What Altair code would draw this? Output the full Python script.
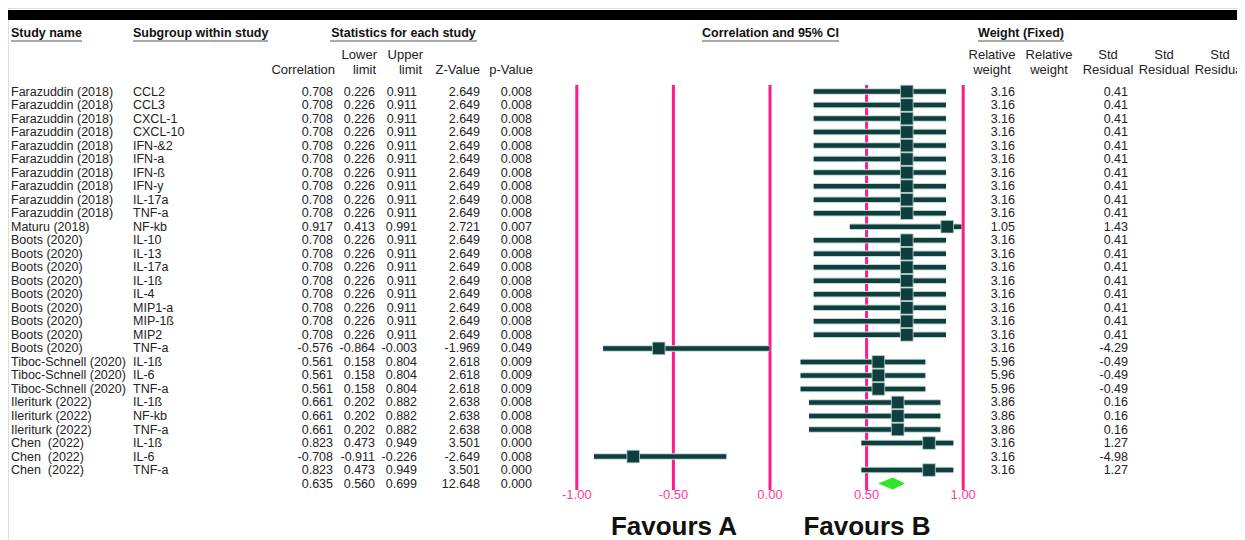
import altair as alt
import pandas as pd

# ---------------- data ----------------
studies = (["Farazuddin (2018)"] * 10 + ["Maturu (2018)"] + ["Boots (2020)"] * 9
           + ["Tiboc-Schnell (2020)"] * 3 + ["Ileriturk (2022)"] * 3 + ["Chen\u00a0\u00a0(2022)"] * 3)
subgroups = ["CCL2", "CCL3", "CXCL-1", "CXCL-10", "IFN-&2", "IFN-a", "IFN-ß", "IFN-y", "IL-17a", "TNF-a",
             "NF-kb",
             "IL-10", "IL-13", "IL-17a", "IL-1ß", "IL-4", "MIP1-a", "MIP-1ß", "MIP2", "TNF-a",
             "IL-1ß", "IL-6", "TNF-a",
             "IL-1ß", "NF-kb", "TNF-a",
             "IL-1ß", "IL-6", "TNF-a"]
correlation = [0.708] * 10 + [0.917] + [0.708] * 8 + [-0.576] + [0.561] * 3 + [0.661] * 3 + [0.823, -0.708, 0.823]
lower_limit = [0.226] * 10 + [0.413] + [0.226] * 8 + [-0.864] + [0.158] * 3 + [0.202] * 3 + [0.473, -0.911, 0.473]
upper_limit = [0.911] * 10 + [0.991] + [0.911] * 8 + [-0.003] + [0.804] * 3 + [0.882] * 3 + [0.949, -0.226, 0.949]
z_value = [2.649] * 10 + [2.721] + [2.649] * 8 + [-1.969] + [2.618] * 3 + [2.638] * 3 + [3.501, -2.649, 3.501]
p_value = [0.008] * 10 + [0.007] + [0.008] * 8 + [0.049] + [0.009] * 3 + [0.008] * 3 + [0.000, 0.008, 0.000]
relative_weight = [3.16] * 10 + [1.05] + [3.16] * 9 + [5.96] * 3 + [3.86] * 3 + [3.16] * 3
std_residual = [0.41] * 10 + [1.43] + [0.41] * 8 + [-4.29] + [-0.49] * 3 + [0.16] * 3 + [1.27, -4.98, 1.27]

summary_corr = [0.635]
summary_lower = [0.560]
summary_upper = [0.699]
summary_z = [12.648]
summary_p = [0.000]

axis_ticks = [-1.0, -0.5, 0.0, 0.5, 1.0]

# ---------------- layout / styles ----------------
W, H = 1229, 532
X0, K = 762.0, 193.2          # pixel of correlation 0, pixels per unit
ROW0, STEP = 83.5, 13.52      # pixel of first row, row step
FONT = "Liberation Sans"
TEAL = "#0E3F3D"
PINK = "#FF1A8E"
GREEN = "#2DE62D"
TXT = "#222222"

xs = alt.Scale(domain=[-X0 / K, (W - X0) / K], nice=False, zero=False)
ys = alt.Scale(domain=[-ROW0 / STEP, (H - ROW0) / STEP], reverse=True, nice=False, zero=False)


def f3(v):
    return [f"{x:.3f}" for x in v]


def f2(v):
    return [f"{x:.2f}" for x in v]


n = len(studies)
df = pd.DataFrame({
    "row": list(range(n)),
    "study": studies,
    "subgroup": subgroups,
    "corr": correlation,
    "lower": lower_limit,
    "upper": upper_limit,
    "corr_s": f3(correlation),
    "lower_s": f3(lower_limit),
    "upper_s": f3(upper_limit),
    "z_s": f3(z_value),
    "p_s": f3(p_value),
    "w_s": f2(relative_weight),
    "res_s": f2(std_residual),
})
summ = pd.DataFrame({
    "row": [n],
    "corr_s": f3(summary_corr),
    "lower_s": f3(summary_lower),
    "upper_s": f3(summary_upper),
    "z_s": f3(summary_z),
    "p_s": f3(summary_p),
})
half = 6.0 / STEP
diamond = pd.DataFrame({
    "x": [summary_lower[0], summary_corr[0], summary_upper[0]],
    "y": [n, n - half, n],
    "y2": [n, n + half, n],
})
ticks = pd.DataFrame({"t": axis_ticks, "lab": f2(axis_ticks)})
one = pd.DataFrame({"k": [0]})

Y = alt.Y("row:Q", scale=ys, axis=None)


def label(text, x, y, align="left", size=13, weight="normal", color=TXT, baseline="middle"):
    return alt.Chart(one).mark_text(
        text=text, align=align, baseline=baseline, fontSize=size, fontWeight=weight,
        color=color, font=FONT
    ).encode(x=alt.value(x), y=alt.value(y))


def underline(x1, x2, y=33):
    return alt.Chart(one).mark_rule(color="#555555", strokeWidth=1.2).encode(
        x=alt.value(x1), x2=alt.value(x2), y=alt.value(y))


layers = []
# top black band
layers.append(alt.Chart(one).mark_rect(color="#000000").encode(
    x=alt.value(0), x2=alt.value(W), y=alt.value(2), y2=alt.value(12)))

# headers
HY = 25
layers += [
    label("Study name", 3, HY, size=12.5, weight="bold", color="#111111"),
    label("Subgroup within study", 125, HY, size=12.5, weight="bold", color="#111111"),
    label("Statistics for each study", 395.5, HY, align="center", size=12.5, weight="bold", color="#111111"),
    label("Correlation and 95% CI", 762.5, HY, align="center", size=12.5, weight="bold", color="#111111"),
    label("Weight (Fixed)", 1013, HY, align="center", size=12.5, weight="bold", color="#111111"),
    underline(3, 74), underline(125, 260), underline(322, 469), underline(694, 831), underline(970, 1056),
]
L1, L2 = 47, 62
layers += [
    label("Correlation", 327, L2, align="right"),
    label("Lower", 369, L1, align="right"), label("limit", 368, L2, align="right"),
    label("Upper", 415, L1, align="right"), label("limit", 414, L2, align="right"),
    label("Z-Value", 472, L2, align="right"),
    label("p-Value", 525, L2, align="right"),
    label("Relative", 984, L1, align="center"), label("weight", 984, L2, align="center"),
    label("Relative", 1041, L1, align="center"), label("weight", 1041, L2, align="center"),
    label("Std", 1100, L1, align="center"), label("Residual", 1100, L2, align="center"),
    label("Std", 1156, L1, align="center"), label("Residual", 1156, L2, align="center"),
    label("Std", 1212, L1, align="center"), label("Residual", 1212, L2, align="center"),
]

# magenta reference lines and tick labels
layers.append(alt.Chart(ticks).mark_rule(color=PINK, strokeWidth=3).encode(
    x=alt.X("t:Q", scale=xs, axis=None), y=alt.value(77), y2=alt.value(482)))
layers.append(alt.Chart(ticks).mark_text(color="#FF3A9C", fontSize=13, font=FONT, baseline="middle").encode(
    x=alt.X("t:Q", scale=xs, axis=None), y=alt.value(487), text="lab:N"))

# CI lines, squares, diamond
layers.append(alt.Chart(df).mark_rule(color="#C3D6D6", strokeWidth=6.5).encode(
    x=alt.X("lower:Q", scale=xs, axis=None), x2="upper:Q", y=Y))
layers.append(alt.Chart(df).mark_rule(color=TEAL, strokeWidth=4.5).encode(
    x=alt.X("lower:Q", scale=xs, axis=None), x2="upper:Q", y=Y))
layers.append(alt.Chart(df).mark_square(size=160, fill=TEAL, filled=True, stroke="#BFD3D3",
                                        strokeWidth=0.8, opacity=1).encode(
    x=alt.X("corr:Q", scale=xs, axis=None), y=Y))
layers.append(alt.Chart(diamond).mark_area(color=GREEN, opacity=1).encode(
    x=alt.X("x:Q", scale=xs, axis=None), y=alt.Y("y:Q", scale=ys, axis=None), y2="y2:Q"))


def col_text(data, field, x, align="right"):
    return alt.Chart(data).mark_text(align=align, baseline="middle", fontSize=12.5, font=FONT,
                                     color=TXT).encode(x=alt.value(x), y=Y, text=field)


layers += [
    col_text(df, "study:N", 3, align="left"),
    col_text(df, "subgroup:N", 125, align="left"),
]
for data in (df, summ):
    layers += [
        col_text(data, "corr_s:N", 325),
        col_text(data, "lower_s:N", 367),
        col_text(data, "upper_s:N", 409),
        col_text(data, "z_s:N", 472),
        col_text(data, "p_s:N", 524),
    ]
layers += [
    col_text(df, "w_s:N", 1007),
    col_text(df, "res_s:N", 1120),
]

# favours labels
layers += [
    label("Favours A", 666, 527, align="center", size=26, weight="bold", color="#111111", baseline="alphabetic"),
    label("Favours B", 859, 527, align="center", size=26, weight="bold", color="#111111", baseline="alphabetic"),
]

chart = alt.layer(*layers).properties(
    width=W, height=H, padding=0, autosize=alt.AutoSizeParams(type="none")
).configure_view(stroke=None).configure(background="white")

chart.save("out.html", embed_options={"renderer": "svg", "actions": False})
